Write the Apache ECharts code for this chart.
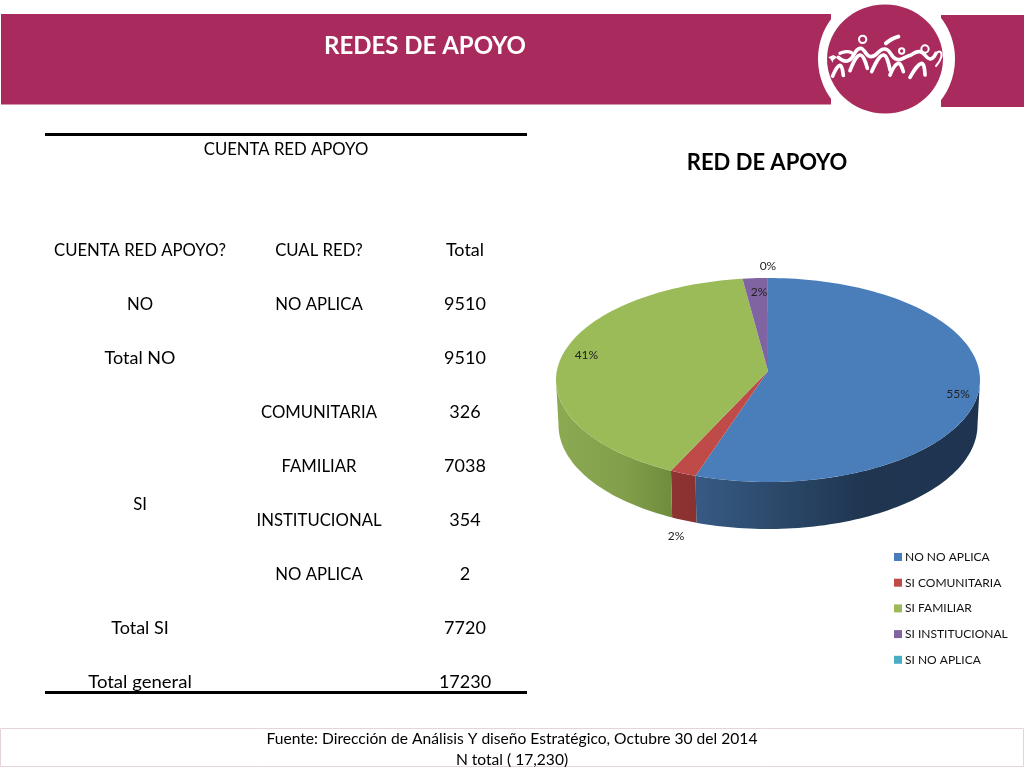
<!DOCTYPE html>
<html><head><meta charset="utf-8">
<style>html,body{margin:0;padding:0;background:#fff}#c{width:1024px;height:768px}</style>
<script src="https://cdn.jsdelivr.net/npm/echarts@6/dist/echarts.min.js"></script>
</head><body><div id="c"></div>
<script>
// ---- chart data ----
const categories = ['NO NO APLICA','SI COMUNITARIA','SI FAMILIAR','SI INSTITUCIONAL','SI NO APLICA'];
const values = [9510,326,7038,354,2];
// ---- table text ----
const tableHeader = ['CUENTA RED APOYO?','CUAL RED?','Total'];
const column1 = ['NO','Total NO','','','','','Total SI','Total general'];
const column2 = ['NO APLICA','','COMUNITARIA','FAMILIAR','INSTITUCIONAL','NO APLICA','',''];
const column3 = ['9510','9510','326','7038','354','2','7720','17230'];
// ---- styles ----
const topColors = ['#4A7EBB','#BE4B48','#9BBB59','#8064A2','#4BACC6'];
const wallStops = [
  [[0,'#375A84'],[0.3,'#2B4869'],[0.6,'#1F3550'],[1,'#1E3450']],
  [[0,'#8E3432'],[1,'#8A3230']],
  [[0,'#8CAA52'],[0.6,'#819E4A'],[1,'#6F8C3F']],
  [[0,'#5F4A7A'],[1,'#5F4A7A']],
  [[0,'#37808F'],[1,'#37808F']]
];
const labelNudge = [[-21,5],[-7,63],[25,-2],[4,14],[0,-12]];

const FONT = 'Lato, "Open Sans", sans-serif';
const P = {cx:768, cy:380, ax:371, rx:212, ry:102, bcy:425, brx:209.5, bry:104, skew:4};
const total = values.reduce((a,b)=>a+b,0);
const rad = d=>d*Math.PI/180;
const warp = d=>d - P.skew*Math.sin(rad(d));
const topPt = d=>[P.cx+P.rx*Math.sin(rad(d)), P.cy-P.ry*Math.cos(rad(d))];
const botPt = d=>[P.cx+P.brx*Math.sin(rad(d)), P.bcy-P.bry*Math.cos(rad(d))];
let run = 0;
const seriesData = values.map(v=>{const s=run; run+=v; return [s,run,v];});

function renderSlice(params, api){
  const i = params.seriesIndex;
  const a = api.value(0)/total*360, b = api.value(1)/total*360, v = api.value(2);
  const wa = warp(a), wb = warp(b), n = Math.max(2,Math.ceil((wb-wa)/1.5));
  const top = [[P.cx,P.ax]];
  for(let k=0;k<=n;k++) top.push(topPt(wa+(wb-wa)*k/n));
  const children = [];
  const fa = Math.max(wa,90), fb = Math.min(wb,270);
  if(fb>fa){
    const m = Math.max(2,Math.ceil((fb-fa)/1.5)), up=[], dn=[];
    for(let k=0;k<=m;k++){const d=fa+(fb-fa)*k/m; up.push(topPt(d)); dn.unshift(botPt(d));}
    children.push({type:'polygon',z2:1,shape:{points:up.concat(dn)},style:{fill:{type:'linear',x:0,y:0,x2:1,y2:0,
      colorStops:wallStops[i].map(s=>({offset:s[0],color:s[1]}))}}});
  }
  children.push({type:'polygon',z2:2,shape:{points:top},style:{fill:topColors[i]}});
  const mid = warp((a+b)/2), lp = topPt(mid);
  children.push({type:'text',z2:5,x:lp[0]+labelNudge[i][0],y:lp[1]+labelNudge[i][1],
    style:{text:Math.round(v/total*100)+'%',font:'12px '+FONT,fill:'#222',align:'center',verticalAlign:'middle'}});
  return {type:'group',children};
}

const texts = [];
function T(text,x,y,size,opt){ if(text) texts.push({type:'text',x,y,z:20,scaleX:(opt&&opt.sx)||1,style:Object.assign(
  {text,font:(opt&&opt.bold?'bold ':'')+size+'px '+FONT,fill:'#000',align:'center',verticalAlign:'middle'},opt&&opt.style||{})}); }
const colX=[140,319,465], rowY=[304,358,412,466,520,574,628,682];
// all-caps strings run wide in this face, so they are condensed slightly
const cell=(t,x,y)=>{ const caps=/^[A-Z ?]+$/.test(t); T(t,x,y,caps?17.5:18,{sx:caps?0.955:(t==='Total general'?1.03:1)}); };
tableHeader.forEach((t,i)=>cell(t,colX[i],250));
rowY.forEach((y,r)=>{cell(column1[r],colX[0],y);cell(column2[r],colX[1],y);cell(column3[r],colX[2],y);});
cell('SI',colX[0],504);
cell('CUENTA RED APOYO',286,149);
T('REDES DE APOYO',425,46,24,{bold:true,style:{fill:'#fff'}});
T('RED DE APOYO',767,162.5,22,{bold:true});
T('Fuente: Dirección de Análisis Y diseño Estratégico, Octubre 30 del 2014',512,739,15.6);
T('N total ( 17,230)',512,760,15.6);

const BRAND='#A92A5C';
const line=(pts,w)=>({type:'polyline',z:12,shape:{points:pts,smooth:0.5},style:{stroke:'#fff',lineWidth:w||11,fill:null,lineCap:'round'}});
const ring=(x,y,r)=>({type:'circle',z:12,shape:{cx:x,cy:y,r},style:{fill:'none',stroke:'#fff',lineWidth:6}});
const logo={type:'group',x:780,y:0,scaleX:1/3,scaleY:1/3,z:12,children:[
  line([[175,172],[205,182],[240,145],[272,170],[315,147],[350,178],[385,168],[420,155],[450,177],[468,160]],11),
  line([[468,160],[480,155],[484,170],[468,198]],6),
  line([[158,228],[180,196],[190,226]]),line([[210,212],[240,165],[262,205]]),
  line([[275,215],[310,165],[330,210]]),line([[330,225],[355,190],[370,215]]),line([[390,232],[425,190],[435,225]]),
  ring(248,118,11),ring(365,153,8),ring(435,147,11),
  line([[318,130],[335,118],[355,110]],12),line([[180,160],[200,155],[215,158]],10),
  {type:'polygon',z:12,shape:{points:[[145,172],[160,165],[172,172],[160,180],[158,188],[152,178]]},style:{fill:'#fff'}}
]};

const graphic=[
  {type:'rect',shape:{x:1,y:14,width:830,height:90.5},style:{fill:BRAND},z:1},
  {type:'rect',shape:{x:941,y:15,width:83,height:92},style:{fill:BRAND},z:1},
  {type:'ellipse',shape:{cx:886.5,cy:59,rx:68.5,ry:68},style:{fill:'#fff'},z:2},
  {type:'ellipse',shape:{cx:885,cy:59,rx:58,ry:54.5},style:{fill:BRAND},z:3},
  logo,
  {type:'rect',shape:{x:45,y:133,width:482,height:3},style:{fill:'#000'},z:5},
  {type:'rect',shape:{x:45,y:691,width:482,height:3},style:{fill:'#000'},z:5},
  {type:'rect',shape:{x:0.5,y:728.5,width:1023,height:38},style:{fill:'#fff',stroke:'#E6D4DC',lineWidth:1},z:1}
].concat(texts);

const chart=echarts.init(document.getElementById('c'),null,{renderer:'canvas'});
chart.setOption({
  animation:false,
  backgroundColor:'#fff',
  graphic,
  legend:{orient:'vertical',left:889,top:546,itemWidth:8,itemHeight:8,itemGap:13.7,icon:'rect',
    data:categories,selectedMode:false,
    textStyle:{fontFamily:FONT,fontSize:12,color:'#111',padding:[0,0,0,-2]}},
  series:categories.map((name,i)=>({
    name,type:'custom',coordinateSystem:'none',itemStyle:{color:topColors[i]},
    renderItem:renderSlice,data:[seriesData[i]],silent:true
  }))
});
</script></body></html>
